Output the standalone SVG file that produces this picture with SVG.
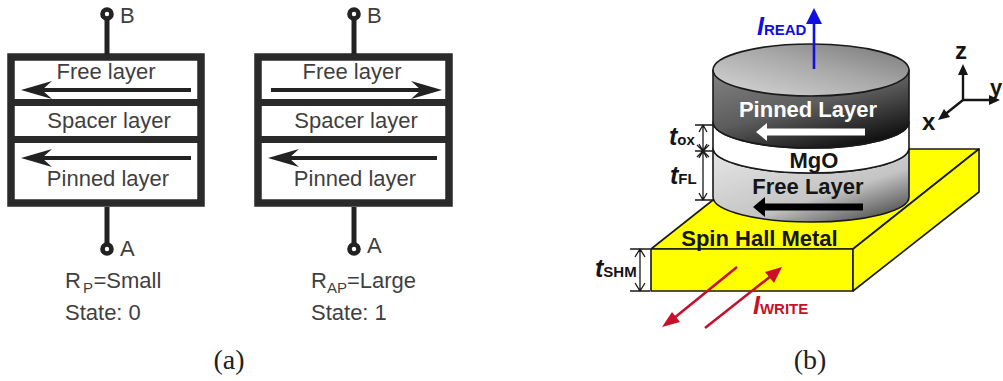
<svg xmlns="http://www.w3.org/2000/svg" width="1003" height="381" viewBox="0 0 1003 381">
<style>
text{font-family:"Liberation Sans",Arial,sans-serif}
.lbl{font-size:22px;fill:#3f3f3f}
.mid{text-anchor:middle}
.sub{font-size:15px}
.cap{font-family:"Liberation Serif","Times New Roman",serif;font-size:28px;fill:#222;text-anchor:middle}
.frame{fill:#fff;stroke:#2a2a2a;stroke-width:7.5}
.bar{stroke:#2a2a2a;stroke-width:7}
.wire{stroke:#222;stroke-width:5;fill:none}
.term{fill:#fff;stroke:#222;stroke-width:4.6}
.arr{stroke:#222;stroke-width:4;fill:none}
.head{fill:#222}
.b{font-weight:bold;fill:#151515;font-size:22px}
.bi{font-weight:bold;font-style:italic;font-size:25px;fill:#151515}
.bs{font-weight:bold;font-style:normal;font-size:15px;fill:#151515}
.edge{stroke:#1a1a1a;stroke-width:1.6;stroke-linejoin:round}
.dim{stroke:#1a1a1a;stroke-width:1.3;fill:none}
.ax{stroke:#151515;stroke-width:2.4;fill:none}
.axh{fill:#151515}
.red{stroke:#c8102a;stroke-width:2.6;fill:none}
.redh{fill:#c8102a}
</style>
<defs>
<linearGradient id="gTop" x1="0" y1="1" x2="1" y2="0"><stop offset="0" stop-color="#d8d8d8"/><stop offset="0.55" stop-color="#a8a8a8"/><stop offset="1" stop-color="#777"/></linearGradient>
<linearGradient id="gPin" x1="0.1" y1="0" x2="0.75" y2="1"><stop offset="0" stop-color="#808080"/><stop offset="0.5" stop-color="#5c5c5c"/><stop offset="1" stop-color="#0c0c0c"/></linearGradient>
<linearGradient id="gFree" x1="0.1" y1="0" x2="0.95" y2="1"><stop offset="0" stop-color="#e4e4e4"/><stop offset="0.6" stop-color="#c4c4c4"/><stop offset="1" stop-color="#3c3c3c"/></linearGradient>
<path id="hl" d="M0,0 L31,-9 L21,0 L31,9 Z"/>
</defs>

<g id="stack-p">
<rect class="frame" x="11" y="57" width="190" height="146"/>
<path class="bar" d="M8,102.500H204M8,139.500H204"/>
<text class="lbl mid" x="106" y="79">Free layer</text>
<text class="lbl mid" x="109" y="128">Spacer layer</text>
<text class="lbl mid" x="108" y="186">Pinned layer</text>
</g>
<g id="stack-ap">
<rect class="frame" x="258" y="57" width="191" height="146"/>
<path class="bar" d="M255,102.500H452M255,139.500H452"/>
<text class="lbl mid" x="352" y="79">Free layer</text>
<text class="lbl mid" x="356" y="128">Spacer layer</text>
<text class="lbl mid" x="355" y="186">Pinned layer</text>
</g>
<g id="terminals-p">
<path class="wire" d="M107,18V54M107,207V245"/>
<circle class="term" cx="107" cy="14" r="4.500"/>
<circle class="term" cx="107" cy="249" r="4.500"/>
<text class="lbl" x="120" y="23">B</text>
<text class="lbl" x="120" y="256">A</text>
<text class="lbl" x="65" y="288">R<tspan class="sub" dx="2" dy="5">P</tspan><tspan x="93.500" dy="-5">=Small</tspan></text>
<text class="lbl" x="65" y="320">State: 0</text>
</g>
<g id="terminals-ap">
<path class="wire" d="M354,18V54M354,207V245"/>
<circle class="term" cx="354" cy="14" r="4.500"/>
<circle class="term" cx="354" cy="249" r="4.500"/>
<text class="lbl" x="367" y="23">B</text>
<text class="lbl" x="367" y="253">A</text>
<text class="lbl" x="311" y="288">R<tspan class="sub" dy="5">AP</tspan><tspan dy="-5">=Large</tspan></text>
<text class="lbl" x="311" y="320">State: 1</text>
</g>
<g id="connectors">
<path class="arr" d="M40,90H191M40,158H191M271,90H430M285,158H437"/>
<use href="#hl" class="head" transform="translate(21,90)"/>
<use href="#hl" class="head" transform="translate(21,158)"/>
<use href="#hl" class="head" transform="translate(442,90) scale(-1,1)"/>
<use href="#hl" class="head" transform="translate(268,158)"/>
</g>
<text id="cap-a" class="cap" x="229" y="369">(a)</text>

<g id="slab">
<path d="M651,249L713,200L910,149H979L853,249Z" fill="#ffff00" class="edge"/>
<rect x="651" y="249" width="202" height="42" fill="#ffff00" class="edge"/>
<path d="M853,249L979,149V192L853,291Z" fill="#ffff00" class="edge"/>
<text class="b" x="759.500" y="246" text-anchor="middle">Spin Hall Metal</text>
</g>
<g id="free-layer">
<path d="M713,148V197A98,25 0 0 0 909,197V148A98,25 0 0 1 713,148Z" fill="url(#gFree)" class="edge"/>
<text class="b" x="808" y="194" text-anchor="middle">Free Layer</text>
<path d="M863,203.500H765V197L753,207L765,217V210.500H863Z" fill="#000"/>
</g>
<g id="mgo-layer">
<path d="M713,122V148A98,25 0 0 0 909,148V122A98,26 0 0 1 713,122Z" fill="#fff" class="edge"/>
<text class="b" x="814" y="168" text-anchor="middle">MgO</text>
</g>
<g id="pinned-layer">
<path d="M713,70V122A98,26 0 0 0 909,122V70Z" fill="url(#gPin)" class="edge"/>
<ellipse cx="811" cy="70" rx="98" ry="26" fill="url(#gTop)" class="edge"/>
<text x="808" y="117" text-anchor="middle" font-weight="bold" font-size="22" fill="#fff">Pinned Layer</text>
<path d="M865,128.500H767V123L756,132L767,141V135.500H865Z" fill="#fff"/>
</g>
<g id="labels-b">
<text class="bi" x="757" y="35" style="fill:#1010e0">I<tspan class="bs" style="fill:#1010e0">READ</tspan></text>
<text class="bi" x="669" y="145">t<tspan class="bs">ox</tspan></text>
<text class="bi" x="670" y="184">t<tspan class="bs">FL</tspan></text>
<text class="bi" x="595" y="277">t<tspan class="bs">SHM</tspan></text>
<text class="bi" x="753" y="314" style="fill:#c8102a">I<tspan class="bs" style="fill:#c8102a">WRITE</tspan></text>
<text class="b" x="955" y="59" style="font-size:24px">z</text>
<text class="b" x="922" y="130" style="font-size:24px">x</text>
<text class="b" x="990" y="95">y</text>
</g>
<g id="connectors-b">
<path d="M814,69V22" stroke="#1010e0" stroke-width="2.600" fill="none"/>
<path d="M814,8L822,24H806Z" fill="#1010e0"/>
<path class="dim" d="M695,125H713M695,151H713M695,200H713M703,125V200M697,145L709,157M709,145L697,157M699,132L703,125L707,132M699,144L703,151L707,144M699,158L703,151L707,158M699,193L703,200L707,193"/>
<path class="dim" d="M630,249H650M630,291H650M640,249V291M635,257L640,249L645,257M635,283L640,291L645,283"/>
<path class="ax" d="M963,100V70M963,100H993M963,100L943,116"/>
<path class="axh" d="M963,64L968,75H958ZM1000,100L989,105V95ZM938,120L944,109L950,117Z"/>
<path class="red" d="M737,267L668,323M705,328L776,272"/>
<path class="redh" d="M662,327L672,312L680,322ZM782,267L774,283L765,272Z"/>
</g>
<text id="cap-b" class="cap" x="810" y="369">(b)</text>
</svg>
